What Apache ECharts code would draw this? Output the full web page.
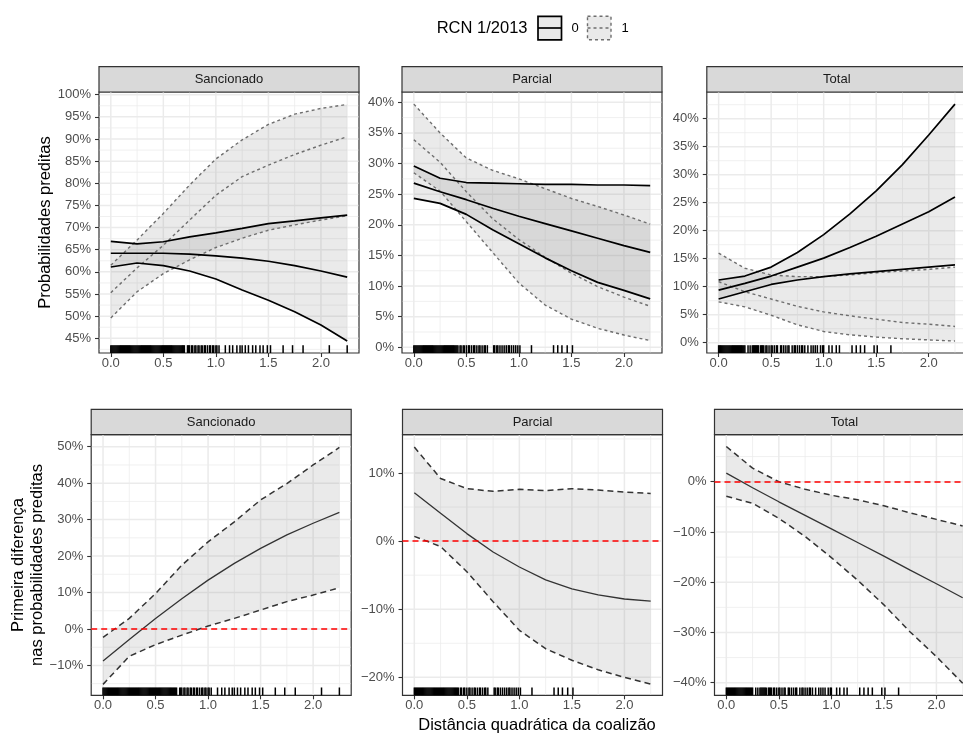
<!DOCTYPE html>
<html lang="pt">
<head>
    <meta charset="UTF-8">
    <title>Probabilidades preditas - RCN 1/2013</title>
    <script src="https://cdn.jsdelivr.net/npm/echarts@6/dist/echarts.min.js"></script>
</head>
<body style="margin:0;background:#fff">
<div id="my" style="width: 963px;height: 734px"></div>
<script>
    // valores de x onde o modelo foi avaliado
    var xs = [0, 0.25, 0.5, 0.75, 1, 1.25, 1.5, 1.75, 2, 2.25]
    var xTicks = [0, 0.5, 1, 1.5, 2]
    var xMinor = [0.25, 0.75, 1.25, 1.75, 2.25]
    var painel = ['Sancionado', 'Parcial', 'Total']

    // probabilidades preditas (%), RCN = 0 (linha cheia) e RCN = 1 (pontilhada)
    var sanc0Hi = [66.9, 66.3, 66.8, 67.9, 68.8, 69.8, 70.9, 71.5, 72.2, 72.8]
    var sanc0Mid = [64.2, 64.2, 64.2, 64.0, 63.6, 63.1, 62.4, 61.4, 60.2, 58.8]
    var sanc0Lo = [61.1, 62.0, 61.4, 60.2, 58.4, 55.9, 53.6, 51.0, 48.0, 44.4]
    var sanc1Hi = [61.5, 67.2, 73.2, 79.6, 85.5, 89.8, 93.3, 95.6, 96.9, 97.8]
    var sanc1Mid = [55.3, 60.9, 66.0, 71.7, 77.3, 81.5, 84.1, 86.5, 88.6, 90.5]
    var sanc1Lo = [49.6, 55.5, 59.6, 62.7, 65.5, 67.6, 69.4, 70.6, 71.7, 72.7]

    var parc0Hi = [29.6, 27.6, 26.9, 26.8, 26.7, 26.6, 26.6, 26.5, 26.5, 26.4]
    var parc0Mid = [26.8, 25.4, 24.1, 22.7, 21.4, 20.2, 19.0, 17.8, 16.6, 15.5]
    var parc0Lo = [24.3, 23.5, 21.7, 19.2, 16.9, 14.6, 12.5, 10.6, 9.3, 7.9]
    var parc1Hi = [39.7, 35.0, 30.9, 28.9, 27.5, 25.9, 24.3, 23.0, 21.6, 20.1]
    var parc1Mid = [33.9, 30.2, 25.4, 21.0, 17.6, 14.7, 12.1, 9.9, 8.2, 6.7]
    var parc1Lo = [28.5, 25.5, 20.5, 15.5, 10.5, 6.9, 4.6, 3.1, 2.0, 1.1]

    var tot0Hi = [11.2, 11.9, 13.5, 16.1, 19.3, 23.0, 27.1, 31.8, 37.1, 42.6]
    var tot0Mid = [9.4, 10.6, 11.9, 13.5, 15.1, 17.0, 19.0, 21.2, 23.4, 26.0]
    var tot0Lo = [7.8, 9.1, 10.4, 11.2, 11.8, 12.3, 12.7, 13.1, 13.5, 13.9]
    var tot1Hi = [16.0, 13.3, 12.1, 11.8, 11.8, 12.1, 12.5, 12.8, 13.1, 13.5]
    var tot1Mid = [10.9, 9.1, 7.8, 6.5, 5.5, 4.8, 4.2, 3.6, 3.3, 2.9]
    var tot1Lo = [7.3, 6.4, 4.9, 3.2, 2.0, 1.4, 1.0, 0.7, 0.5, 0.3]

    // primeira diferenca (%) com intervalo
    var fdSanc = [-8.8, -2.9, 2.9, 8.3, 13.4, 18.0, 22.1, 25.8, 29.0, 32.0]
    var fdSancHi = [-2.3, 2.9, 9.7, 17.5, 23.9, 29.4, 35.4, 39.9, 45.0, 49.8]
    var fdSancLo = [-15.2, -7.5, -4.3, -1.7, 0.8, 2.9, 5.2, 7.5, 9.3, 11.3]
    var fdParc = [7.1, 4.1, 1.1, -1.6, -3.8, -5.7, -7.0, -7.9, -8.5, -8.8]
    var fdParcHi = [13.8, 9.2, 7.7, 7.3, 7.6, 7.4, 7.7, 7.5, 7.2, 7.0]
    var fdParcLo = [0.7, -0.8, -4.5, -8.9, -13.1, -15.8, -17.5, -18.9, -20.0, -21.0]
    var fdTot = [1.7, -1.2, -4.0, -6.7, -9.4, -12.1, -14.8, -17.6, -20.3, -23.1]
    var fdTotHi = [7.0, 2.7, 0.0, -1.5, -2.7, -3.6, -4.8, -6.2, -7.5, -8.8]
    var fdTotLo = [-2.9, -4.3, -7.3, -10.9, -15.1, -19.6, -24.5, -29.9, -34.8, -40.1]

    // rug: distancia observada de cada caso
    var rugSanc = [0, 0.01, 0.02, 0.03, 0.04, 0.05, 0.06, 0.07, 0.08, 0.09, 0.1, 0.11, 0.12, 0.13, 0.14, 0.15, 0.16, 0.17,
        0.18, 0.19, 0.2, 0.21, 0.22, 0.23, 0.24, 0.25, 0.26, 0.27, 0.28, 0.29, 0.3, 0.31, 0.32, 0.33, 0.34, 0.35, 0.36, 0.37,
        0.38, 0.39, 0.4, 0.41, 0.42, 0.43, 0.44, 0.45, 0.46, 0.47, 0.48, 0.49, 0.5, 0.51, 0.52, 0.53, 0.54, 0.55, 0.56, 0.57,
        0.58, 0.59, 0.6, 0.61, 0.62, 0.63, 0.64, 0.65, 0.66, 0.67, 0.68, 0.69, 0.7, 0.73, 0.74, 0.75, 0.77, 0.78, 0.8, 0.81,
        0.83, 0.84, 0.86, 0.87, 0.89, 0.9, 0.92, 0.94, 0.95, 0.97, 0.98, 1.0, 1.01, 1.03, 1.09, 1.13, 1.16, 1.2, 1.23,
        1.25, 1.28, 1.31, 1.35, 1.38, 1.42, 1.45, 1.49, 1.52, 1.64, 1.73, 1.83, 2.08, 2.25]
    var rugParc = [0, 0.01, 0.02, 0.03, 0.04, 0.05, 0.06, 0.07, 0.08, 0.09, 0.1, 0.11, 0.12, 0.13, 0.14, 0.15, 0.16, 0.17,
        0.18, 0.19, 0.2, 0.21, 0.22, 0.23, 0.24, 0.25, 0.26, 0.27, 0.28, 0.29, 0.3, 0.31, 0.32, 0.33, 0.34, 0.35, 0.36, 0.37,
        0.38, 0.39, 0.4, 0.41, 0.42, 0.44, 0.45, 0.47, 0.48, 0.5, 0.52, 0.53, 0.55, 0.57, 0.58, 0.6, 0.62, 0.63, 0.65, 0.67,
        0.68, 0.7, 0.76, 0.77, 0.79, 0.8, 0.82, 0.84, 0.86, 0.88, 0.9, 0.91, 0.93, 0.95, 0.97, 0.99, 1.01, 1.12,
        1.33, 1.37, 1.41, 1.46, 1.51]
    var rugTot = [0, 0.01, 0.02, 0.03, 0.04, 0.05, 0.06, 0.07, 0.08, 0.09, 0.1, 0.11, 0.12, 0.13, 0.14, 0.15, 0.16, 0.17,
        0.18, 0.19, 0.2, 0.21, 0.22, 0.23, 0.24, 0.25, 0.28, 0.3, 0.32, 0.33, 0.34, 0.35, 0.36, 0.37, 0.38, 0.4, 0.41, 0.42,
        0.43, 0.45, 0.46, 0.48, 0.5, 0.51, 0.53, 0.55, 0.56, 0.59, 0.6, 0.62, 0.64, 0.66, 0.67, 0.7, 0.72, 0.73, 0.75, 0.77,
        0.79, 0.8, 0.82, 0.85, 0.88, 0.9, 0.92, 0.94, 0.97, 0.99, 1.0, 1.05, 1.08, 1.12, 1.15, 1.27, 1.31, 1.35, 1.39,
        1.48, 1.51, 1.64]

    // eixos y: limites e marcas
    var yRange = [[41.68, 100.61], [-0.93, 41.68], [-1.84, 44.77], [-18.2, 53.3], [-22.64, 15.62], [-42.5, 9.35]]
    var yTicks = [
        [45, 50, 55, 60, 65, 70, 75, 80, 85, 90, 95, 100],
        [0, 5, 10, 15, 20, 25, 30, 35, 40],
        [0, 5, 10, 15, 20, 25, 30, 35, 40],
        [-10, 0, 10, 20, 30, 40, 50],
        [-20, -10, 0, 10],
        [-40, -30, -20, -10, 0]
    ]
    var yMinor = [
        [42.5, 47.5, 52.5, 57.5, 62.5, 67.5, 72.5, 77.5, 82.5, 87.5, 92.5, 97.5],
        [2.5, 7.5, 12.5, 17.5, 22.5, 27.5, 32.5, 37.5],
        [2.5, 7.5, 12.5, 17.5, 22.5, 27.5, 32.5, 37.5, 42.5],
        [-15, -5, 5, 15, 25, 35, 45],
        [-15, -5, 5, 15],
        [-35, -25, -15, -5, 5]
    ]

    // posicoes dos paineis (px)
    var boxes = [
        [99, 92, 260, 261], [402, 92, 260, 261], [706.8, 92, 260, 261],
        [91.2, 434.7, 260, 260.6], [402.5, 434.7, 260, 260.6], [714.5, 434.7, 260, 260.6]
    ]
    var stripH = 25.4
    var font = 'Liberation Sans, Arial, sans-serif'
    var fill = 'rgba(128,128,128,0.17)'

    var mCharts = echarts.init(document.getElementById('my'), null, {renderer: 'canvas'})

    var grids = [], xAxes = [], yAxes = [], series = [], graphics = []

    function pct(v) {
        return (v < 0 ? '\u2212' : '') + Math.abs(v) + '%'
    }

    function pairs(arr) {
        return xs.map(function (x, i) { return [x, arr[i]] })
    }

    function ribbon(i, lo, hi) {
        return {
            type: 'custom', xAxisIndex: i, yAxisIndex: i, silent: true, animation: false,
            data: [[xs[0], lo[0]]],
            renderItem: function (params, api) {
                var up = xs.map(function (x, k) { return api.coord([x, hi[k]]) })
                var bot = xs.map(function (x, k) { return api.coord([x, lo[k]]) }).reverse()
                return {type: 'polygon', shape: {points: up.concat(bot)}, style: {fill: fill}}
            }
        }
    }

    function line(i, arr, style) {
        return {
            type: 'line', xAxisIndex: i, yAxisIndex: i, data: pairs(arr), showSymbol: false,
            silent: true, animation: false, lineStyle: style
        }
    }

    function gridLines(i) {
        var d = []
        yTicks[i].forEach(function (v) { d.push([v, 0]) })
        yMinor[i].forEach(function (v) { d.push([v, 1]) })
        xTicks.forEach(function (v) { d.push([v, 2]) })
        xMinor.forEach(function (v) { d.push([v, 3]) })
        return {
            type: 'custom', xAxisIndex: i, yAxisIndex: i, silent: true, animation: false, z: 1,
            data: d,
            renderItem: function (params, api) {
                var cs = params.coordSys
                var v = api.value(0), k = api.value(1)
                var w = (k === 0 || k === 2) ? 1.5 : 0.75
                if (k < 2) {
                    var y = api.coord([0, v])[1]
                    return {type: 'line', shape: {x1: cs.x + 0.6, y1: y, x2: cs.x + cs.width - 0.6, y2: y},
                        style: {stroke: '#EBEBEB', lineWidth: w}}
                }
                var x = api.coord([v, yRange[i][0]])[0]
                return {type: 'line', shape: {x1: x, y1: cs.y + 0.6, x2: x, y2: cs.y + cs.height - 0.6},
                    style: {stroke: '#EBEBEB', lineWidth: w}}
            }
        }
    }

    function rug(i, vals) {
        return {
            type: 'custom', xAxisIndex: i, yAxisIndex: i, silent: true, animation: false,
            data: vals.map(function (v) { return [v, yRange[i][0]] }),
            renderItem: function (params, api) {
                var cs = params.coordSys
                var x = api.coord([api.value(0), yRange[i][0]])[0]
                var b = cs.y + cs.height
                return {type: 'line', shape: {x1: x, y1: b, x2: x, y2: b - cs.height * 0.03},
                    style: {stroke: '#000', lineWidth: 1.5}}
            }
        }
    }

    for (var i = 0; i < 6; i++) {
        var b = boxes[i]
        grids.push({left: b[0], top: b[1], width: b[2], height: b[3], show: true, backgroundColor: '#fff',
            borderColor: '#333', borderWidth: 1.2, containLabel: false, outerBoundsMode: 'none'})
        xAxes.push({
            gridIndex: i, type: 'value', min: -0.1125, max: 2.3625,
            axisLine: {show: false, onZero: false},
            splitLine: {show: false},
            axisTick: {show: true, length: 4, lineStyle: {color: '#333', width: 1.1}, customValues: xTicks},
            axisLabel: {customValues: xTicks, color: '#4D4D4D', fontSize: 13, fontFamily: font, margin: 4,
                formatter: function (v) { return v.toFixed(1) }}
        })
        yAxes.push({
            gridIndex: i, type: 'value', min: yRange[i][0], max: yRange[i][1],
            axisLine: {show: false, onZero: false},
            splitLine: {show: false},
            axisTick: {show: true, length: 4, lineStyle: {color: '#333', width: 1.1}, customValues: yTicks[i]},
            axisLabel: {customValues: yTicks[i], color: '#4D4D4D', fontSize: 13, fontFamily: font, margin: 8,
                formatter: pct}
        })
        series.push(gridLines(i))

        // faixa com o nome do painel
        graphics.push({type: 'rect', shape: {x: b[0], y: b[1] - stripH, width: b[2], height: stripH},
            style: {fill: '#D9D9D9', stroke: '#333', lineWidth: 1.2}})
        graphics.push({type: 'text', x: b[0] + b[2] / 2, y: b[1] - stripH / 2,
            style: {text: painel[i % 3], fill: '#1A1A1A', font: '13px ' + font, textAlign: 'center', textVerticalAlign: 'middle'}})
    }

    var solid = {color: '#000', width: 1.7, type: 'solid'}
    var dotted = {color: '#6E6E6E', width: 1.4, type: [3, 3]}
    var topSets = [
        [sanc0Lo, sanc0Mid, sanc0Hi, sanc1Lo, sanc1Mid, sanc1Hi],
        [parc0Lo, parc0Mid, parc0Hi, parc1Lo, parc1Mid, parc1Hi],
        [tot0Lo, tot0Mid, tot0Hi, tot1Lo, tot1Mid, tot1Hi]
    ]
    topSets.forEach(function (s, i) {
        series.push(ribbon(i, s[0], s[2]))
        series.push(ribbon(i, s[3], s[5]))
        series.push(line(i, s[3], dotted), line(i, s[4], dotted), line(i, s[5], dotted))
        series.push(line(i, s[0], solid), line(i, s[1], solid), line(i, s[2], solid))
    })

    var dashed = {color: '#333', width: 1.5, type: [6, 4]}
    var bottomSets = [[fdSancLo, fdSanc, fdSancHi], [fdParcLo, fdParc, fdParcHi], [fdTotLo, fdTot, fdTotHi]]
    bottomSets.forEach(function (s, k) {
        var i = k + 3
        series.push(ribbon(i, s[0], s[2]))
        series.push(line(i, s[0], dashed), line(i, s[2], dashed))
        var mid = line(i, s[1], {color: '#333', width: 1.3})
        mid.markLine = {silent: true, symbol: 'none', animation: false, label: {show: false},
            lineStyle: {color: '#FF0000', width: 1.5, type: [6, 4]}, data: [{yAxis: 0}]}
        series.push(mid)
    })

    var rugs = [rugSanc, rugParc, rugTot, rugSanc, rugParc, rugTot]
    rugs.forEach(function (r, i) { series.push(rug(i, r)) })

    // titulos dos eixos
    graphics.push({type: 'text', x: 45.7, y: 222.5, rotation: Math.PI / 2,
        style: {text: 'Probabilidades preditas', fill: '#000', font: '16.5px ' + font, textAlign: 'center', textVerticalAlign: 'middle'}})
    graphics.push({type: 'text', x: 27.8, y: 565, rotation: Math.PI / 2,
        style: {text: 'Primeira diferença\nnas probabilidades preditas', fill: '#000', font: '16.5px ' + font,
            textAlign: 'center', textVerticalAlign: 'middle', lineHeight: 19}})
    graphics.push({type: 'text', x: 537, y: 725,
        style: {text: 'Distância quadrática da coalizão', fill: '#000', font: '16.5px ' + font, textAlign: 'center', textVerticalAlign: 'middle'}})

    // legenda
    graphics.push({type: 'text', x: 436.7, y: 28,
        style: {text: 'RCN 1/2013', fill: '#000', font: '16.5px ' + font, textAlign: 'left', textVerticalAlign: 'middle'}})
    graphics.push({type: 'rect', shape: {x: 538, y: 16.3, width: 23.5, height: 23.5},
        style: {fill: '#E9E9E9', stroke: '#000', lineWidth: 1.7}})
    graphics.push({type: 'line', shape: {x1: 538, y1: 28, x2: 561.5, y2: 28}, style: {stroke: '#000', lineWidth: 1.7}})
    graphics.push({type: 'text', x: 571.5, y: 28,
        style: {text: '0', fill: '#000', font: '13px ' + font, textAlign: 'left', textVerticalAlign: 'middle'}})
    graphics.push({type: 'rect', shape: {x: 587.5, y: 16.3, width: 23.5, height: 23.5},
        style: {fill: '#E9E9E9', stroke: '#6E6E6E', lineWidth: 1.4, lineDash: [3, 3]}})
    graphics.push({type: 'line', shape: {x1: 587.5, y1: 28, x2: 611, y2: 28},
        style: {stroke: '#6E6E6E', lineWidth: 1.4, lineDash: [3, 3]}})
    graphics.push({type: 'text', x: 621.5, y: 28,
        style: {text: '1', fill: '#000', font: '13px ' + font, textAlign: 'left', textVerticalAlign: 'middle'}})

    var option = {
        backgroundColor: '#fff',
        animation: false,
        grid: grids,
        xAxis: xAxes,
        yAxis: yAxes,
        series: series,
        graphic: {elements: graphics}
    }
    mCharts.setOption(option)
</script>
</body>
</html>
